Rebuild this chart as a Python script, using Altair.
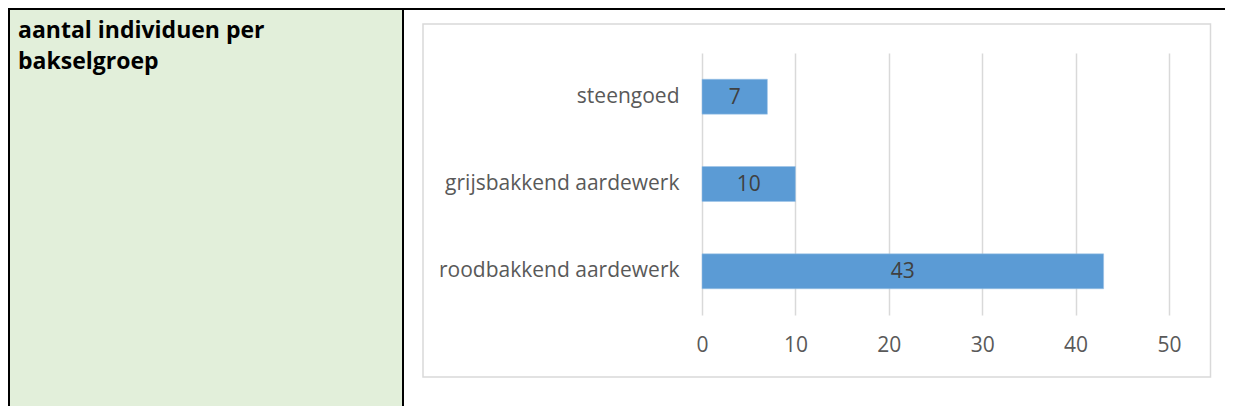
import altair as alt
import pandas as pd

categories = ["steengoed", "grijsbakkend aardewerk", "roodbakkend aardewerk"]
counts = [7, 10, 43]
x_ticks = [0, 10, 20, 30, 40, 50]
title_text = "aantal individuen per\nbakselgroep"

df = pd.DataFrame({"cat": categories, "n": counts})

FONT = "Open Sans"
W, H = 467, 262

base = alt.Chart(df)
one = alt.datum.cat == categories[0]

# decorations (pixel positions relative to plot origin)
green = base.mark_rect(color="#E2EFDA").encode(
    x=alt.value(-692), x2=alt.value(-300), y=alt.value(-43), y2=alt.value(360)
).transform_filter(one)

box = base.mark_rect(fill=None, stroke="#D9D9D9", strokeWidth=1.5).encode(
    x=alt.value(-279), x2=alt.value(508.5), y=alt.value(-29), y2=alt.value(324)
).transform_filter(one)

top_border = base.mark_rule(color="black", strokeWidth=2).encode(
    x=alt.value(-700), x2=alt.value(560), y=alt.value(-44)
).transform_filter(one)

left_border = base.mark_rule(color="black", strokeWidth=2).encode(
    x=alt.value(-693), y=alt.value(-45), y2=alt.value(360)
).transform_filter(one)

divider = base.mark_rule(color="black", strokeWidth=2).encode(
    x=alt.value(-299), y=alt.value(-45), y2=alt.value(360)
).transform_filter(one)

title = base.mark_text(
    text=title_text, lineBreak="\n", font=FONT, fontWeight="bold", fontSize=23,
    color="black", align="left", baseline="alphabetic", lineHeight=31
).encode(x=alt.value(-684), y=alt.value(-15.5)).transform_filter(one)

y_enc = alt.Y(
    "cat:N", sort=categories, title=None,
    scale=alt.Scale(paddingInner=0.6, paddingOuter=0.3),
    axis=alt.Axis(domain=False, ticks=False, grid=False, labelFont=FONT,
                  labelFontSize=21, labelColor="#595959", labelPadding=23,
                  labelLimit=400),
)
x_enc = alt.X(
    "n:Q", title=None,
    scale=alt.Scale(domain=[0, 50], nice=False),
    axis=alt.Axis(values=x_ticks, domain=False, ticks=False, grid=True,
                  gridColor="#D9D9D9", gridWidth=1.5, labelFont=FONT,
                  labelFontSize=21, labelColor="#595959", labelPadding=19,
                  labelFlush=False),
)

bars = base.mark_bar(color="#5B9BD5", stroke="#9DC3E6", strokeWidth=0.5).encode(
    x=x_enc, y=y_enc
)

labels = base.transform_calculate(mid="datum.n / 2").mark_text(
    font=FONT, fontSize=21, color="#404040", baseline="middle", dy=1
).encode(
    x=alt.X("mid:Q"), y=alt.Y("cat:N", sort=categories), text="n:Q"
)

chart = alt.layer(green, box, top_border, left_border, divider, title, bars, labels).properties(
    width=W, height=H,
    autosize=alt.AutoSizeParams(type="none"),
    padding={"left": 694, "top": 45, "right": 56, "bottom": 91},
    background="white",
).configure_view(stroke=None)

chart.save("out.html", embed_options={"renderer": "svg", "actions": False})
